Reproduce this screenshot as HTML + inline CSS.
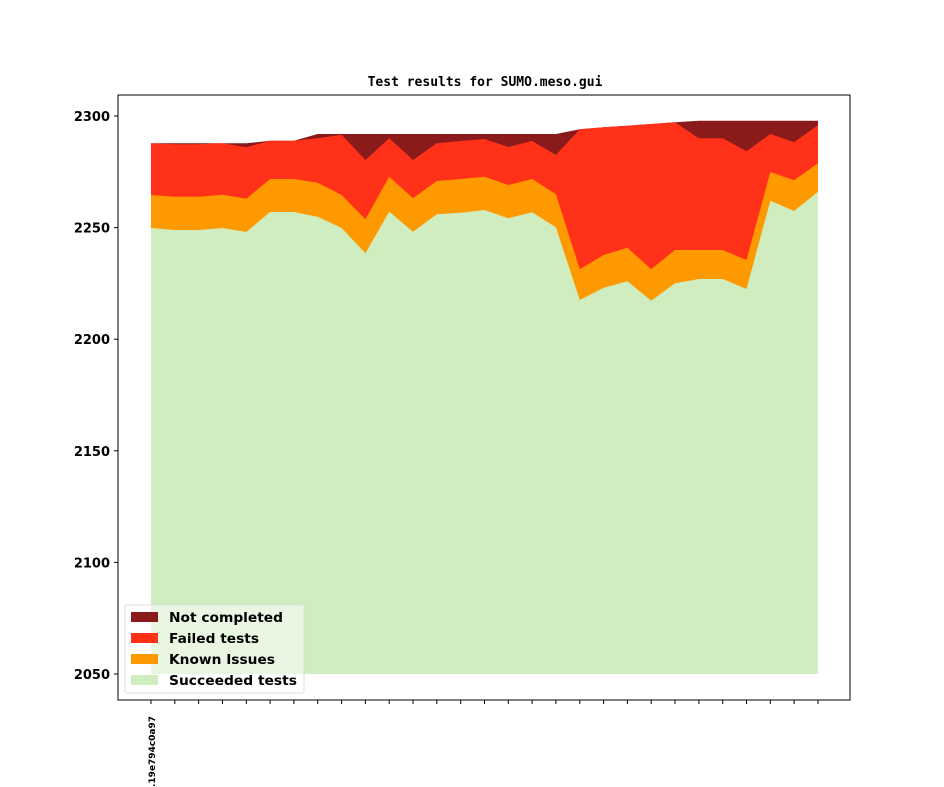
<!DOCTYPE html>
<html><head><meta charset="utf-8"><style>body{margin:0;background:#fff}svg{display:block}</style></head><body>
<svg width="944" height="787" xmlns="http://www.w3.org/2000/svg" font-family="DejaVu Sans, Liberation Sans, sans-serif">
<rect width="944" height="787" fill="#fff"/>
<text x="485" y="86" text-anchor="middle" font-family="DejaVu Sans Mono, Liberation Mono, monospace" font-weight="bold" font-size="13">Test results for SUMO.meso.gui</text>
<polygon fill="#8b1a1a" points="151,143.3 174.8,143.3 198.6,143.3 222.5,143.3 246.3,143.3 270.1,140.7 293.9,140.7 317.7,134 341.6,134 365.4,134 389.2,134 413,134 436.8,134 460.7,134 484.5,134 508.3,134 532.1,134 555.9,134 579.8,129.3 603.6,127.3 627.4,125.7 651.2,124 675,122.3 698.9,120.7 722.7,120.7 746.5,120.7 770.3,120.7 794.1,120.7 818,120.7 818,674 151,674"/>
<polygon fill="#ff3219" points="151,143.3 174.8,144.3 198.6,144.3 222.5,143.3 246.3,147.3 270.1,140.7 293.9,140.7 317.7,138.3 341.6,134.7 365.4,160 389.2,138.3 413,160 436.8,143.3 460.7,141 484.5,139 508.3,147 532.1,141 555.9,155 579.8,129.3 603.6,127.3 627.4,125.7 651.2,124 675,122.3 698.9,138.3 722.7,138.3 746.5,151.3 770.3,134 794.1,142.3 818,125 818,674 151,674"/>
<polygon fill="#ff9900" points="151,195 174.8,196.7 198.6,196.7 222.5,194.7 246.3,198.7 270.1,179 293.9,179 317.7,182.7 341.6,195 365.4,219.3 389.2,176.7 413,198.3 436.8,181 460.7,179 484.5,176.7 508.3,185 532.1,179 555.9,194.3 579.8,269.3 603.6,255 627.4,247.7 651.2,269.3 675,250 698.9,250 722.7,250 746.5,260 770.3,172 794.1,180.3 818,163.3 818,674 151,674"/>
<polygon fill="#cfedbe" points="151,228 174.8,230 198.6,230 222.5,228 246.3,232 270.1,212 293.9,212 317.7,216.7 341.6,228 365.4,253.3 389.2,211.7 413,231.7 436.8,214.3 460.7,212.7 484.5,210 508.3,218.3 532.1,212.3 555.9,227.3 579.8,300 603.6,287.7 627.4,281.3 651.2,300.7 675,283.3 698.9,279 722.7,279 746.5,289 770.3,200.7 794.1,211 818,191.7 818,674 151,674"/>
<rect x="118" y="95" width="732" height="605" fill="none" stroke="#000" stroke-width="1"/>
<g stroke="#000" stroke-width="1">
<line x1="114" y1="116" x2="118" y2="116"/><line x1="114" y1="227.6" x2="118" y2="227.6"/><line x1="114" y1="339.2" x2="118" y2="339.2"/><line x1="114" y1="450.8" x2="118" y2="450.8"/><line x1="114" y1="562.4" x2="118" y2="562.4"/><line x1="114" y1="674" x2="118" y2="674"/>
</g>
<g font-size="13" font-weight="bold" text-anchor="end">
<text x="110" y="121">2300</text><text x="110" y="232.6">2250</text><text x="110" y="344.2">2200</text><text x="110" y="455.8">2150</text><text x="110" y="567.4">2100</text><text x="110" y="679">2050</text>
</g>
<g stroke="#000" stroke-width="1">
<path d="M151,700v4M174.8,700v4M198.6,700v4M222.5,700v4M246.3,700v4M270.1,700v4M293.9,700v4M317.7,700v4M341.6,700v4M365.4,700v4M389.2,700v4M413,700v4M436.8,700v4M460.7,700v4M484.5,700v4M508.3,700v4M532.1,700v4M555.9,700v4M579.8,700v4M603.6,700v4M627.4,700v4M651.2,700v4M675,700v4M698.9,700v4M722.7,700v4M746.5,700v4M770.3,700v4M794.1,700v4M818,700v4"/>
</g>
<text transform="translate(155,787) rotate(-90)" font-size="9" font-weight="bold">.19e794c0a97</text>
<rect x="125" y="605" width="179" height="88" rx="2" fill="#fff" fill-opacity="0.55" stroke="#ddd"/>
<rect x="131" y="612" width="27" height="10" fill="#8b1a1a"/>
<rect x="131" y="633" width="27" height="10" fill="#ff3219"/>
<rect x="131" y="654" width="27" height="10" fill="#ff9900"/>
<rect x="131" y="675" width="27" height="10" fill="#cfedbe"/>
<g font-size="13.5" font-weight="bold">
<text x="169" y="622" textLength="114" lengthAdjust="spacingAndGlyphs">Not completed</text><text x="169" y="643" textLength="90" lengthAdjust="spacingAndGlyphs">Failed tests</text><text x="169" y="664" textLength="106" lengthAdjust="spacingAndGlyphs">Known Issues</text><text x="169" y="685" textLength="128" lengthAdjust="spacingAndGlyphs">Succeeded tests</text>
</g>
</svg>
</body></html>
